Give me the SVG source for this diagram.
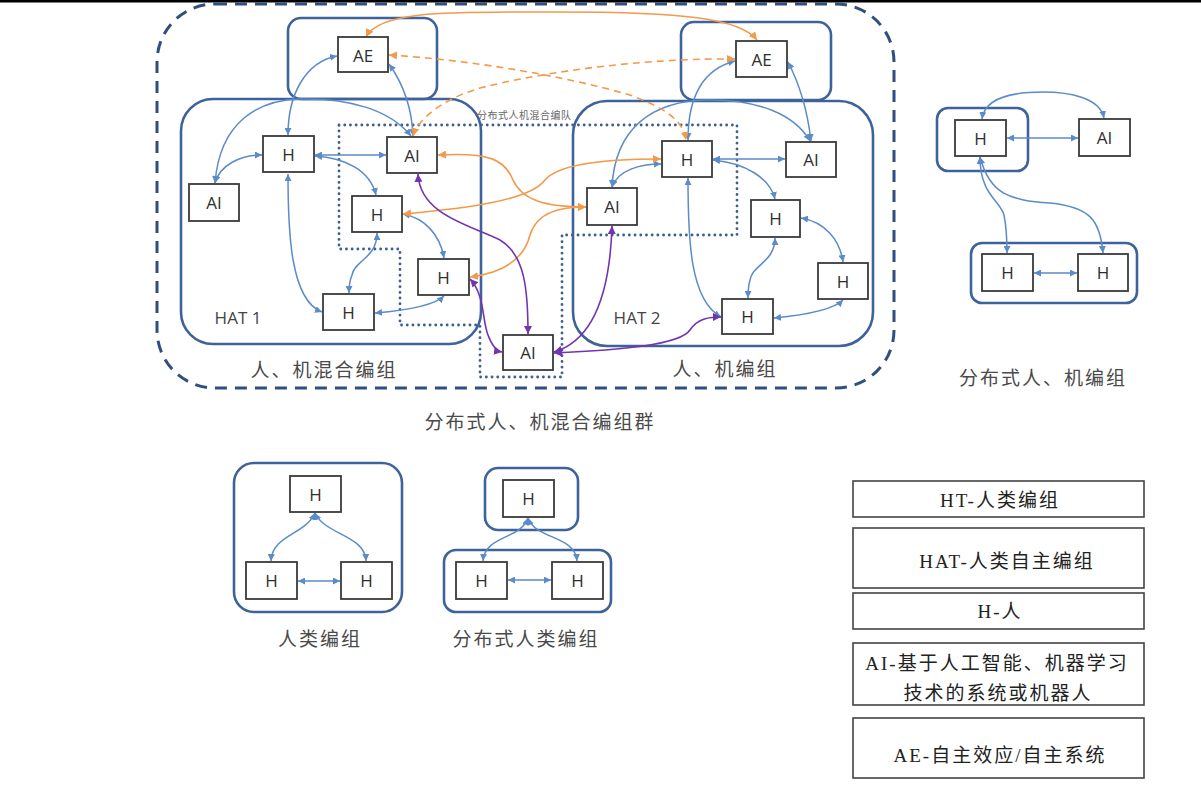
<svg xmlns="http://www.w3.org/2000/svg" width="1201" height="785" viewBox="0 0 1201 785">
<style>
.bg{fill:#fff}
.grp{fill:none;stroke:#3E639A;stroke-width:2.6}
.outer{fill:none;stroke:#2F4F7F;stroke-width:3;stroke-dasharray:12 8}
.dot{fill:none;stroke:#3E5F90;stroke-width:2.8;stroke-dasharray:0.1 5.6;stroke-linecap:round;stroke-linejoin:round}
.node rect{fill:#fff;stroke:#3a3a3a;stroke-width:1.8}
.node text{font-family:"Open Sans","DejaVu Sans",sans-serif;font-size:17px;fill:#2e2e2e;text-anchor:middle;dominant-baseline:central}
.b{fill:none;stroke:#5B8BC9;stroke-width:1.5;marker-start:url(#ab);marker-end:url(#ab)}
.o{fill:none;stroke:#F39A4A;stroke-width:1.6;marker-start:url(#ao);marker-end:url(#ao)}
.od{fill:none;stroke:#F39A4A;stroke-width:1.6;stroke-dasharray:7 5;marker-start:url(#ao);marker-end:url(#ao)}
.p{fill:none;stroke:#7434B0;stroke-width:1.6;marker-start:url(#ap);marker-end:url(#ap)}
.cap{font-family:"Noto Sans CJK SC","Noto Sans",sans-serif;font-size:19px;fill:#4a4a4a;letter-spacing:2px;text-anchor:middle;dominant-baseline:central}
.hat{font-family:"Open Sans","DejaVu Sans",sans-serif;font-size:17px;fill:#444;text-anchor:middle;dominant-baseline:central}
.small{font-family:"Noto Sans CJK SC",sans-serif;font-size:10px;fill:#666;dominant-baseline:central;letter-spacing:0.5px}
.leg rect{fill:#fff;stroke:#444;stroke-width:1.6}
.leg text{font-family:"Liberation Serif","Noto Sans CJK SC",serif;font-size:19px;fill:#222;letter-spacing:2px;text-anchor:middle;dominant-baseline:central}
</style>
<defs>
<marker id="ab" viewBox="0 0 8 8" refX="8" refY="4" markerWidth="7" markerHeight="7" markerUnits="userSpaceOnUse" orient="auto-start-reverse"><path d="M0,0 L8,4 L0,8 z" fill="#5B8BC9"/></marker>
<marker id="ao" viewBox="0 0 8 8" refX="8" refY="4" markerWidth="8" markerHeight="8" markerUnits="userSpaceOnUse" orient="auto-start-reverse"><path d="M0,0 L8,4 L0,8 z" fill="#F39A4A"/></marker>
<marker id="ap" viewBox="0 0 8 8" refX="8" refY="4" markerWidth="8" markerHeight="8" markerUnits="userSpaceOnUse" orient="auto-start-reverse"><path d="M0,0 L8,4 L0,8 z" fill="#7434B0"/></marker>
</defs>
<rect class="bg" x="0" y="0" width="1201" height="785"/>
<rect x="0" y="0" width="1201" height="2.5" fill="#000"/>

<g id="containers">
<rect class="outer" x="157" y="4" width="737" height="384" rx="58"/>
<rect class="grp" x="288" y="18" width="149" height="81" rx="13"/>
<rect class="grp" x="181" y="99" width="300" height="245" rx="32"/>
<rect class="grp" x="681" y="22" width="150" height="78" rx="13"/>
<rect class="grp" x="573" y="101" width="300" height="245" rx="34"/>
<path class="dot" d="M339,125 L737,125 L737,235 L562,235 L562,377 L480,377 L480,325 L400,325 L400,249 L339,249 Z"/>
<rect class="grp" x="937" y="108" width="91" height="63" rx="11"/>
<rect class="grp" x="971" y="243" width="166" height="60" rx="11"/>
<rect class="grp" x="234" y="463" width="168" height="149" rx="20"/>
<rect class="grp" x="485" y="468" width="93" height="62" rx="13"/>
<rect class="grp" x="444" y="550" width="167" height="62" rx="12"/>
</g>

<g id="connectors">
<!-- HAT1 blue -->
<path class="b" d="M288,135 C288,95 305,62 337,56"/>
<path class="b" d="M389,64 C404,85 412,110 413,136"/>
<path class="b" d="M215,183 C220,165 240,155 262,155"/>
<path class="b" d="M215,183 C220,120 260,100 300,99 C350,98 390,110 411,136"/>
<path class="b" d="M315,155 L386,155"/>
<path class="b" d="M315,156 C345,158 370,170 376,195"/>
<path class="b" d="M288,174 C288,230 290,300 322,312"/>
<path class="b" d="M377,233 C377,258 355,260 352,275 C349,282 349,288 349,293"/>
<path class="b" d="M403,214 C425,218 440,235 444,258"/>
<path class="b" d="M375,313 C410,310 435,305 444,296"/>
<!-- HAT2 blue -->
<path class="b" d="M688,140 C688,100 700,70 735,61"/>
<path class="b" d="M788,62 C800,85 808,115 811,141"/>
<path class="b" d="M612,187 C618,170 640,164 661,164"/>
<path class="b" d="M612,187 C615,130 650,100 710,100 C760,100 795,115 810,141"/>
<path class="b" d="M713,159 L785,159"/>
<path class="b" d="M713,160 C745,163 770,178 775,199"/>
<path class="b" d="M688,178 C688,240 690,300 721,317"/>
<path class="b" d="M775,238 C775,262 752,265 750,280 C748,287 748,292 748,298"/>
<path class="b" d="M801,218 C825,222 840,240 843,262"/>
<path class="b" d="M774,318 C805,315 833,310 843,300"/>
<!-- orange -->
<path class="o" d="M366,37 C380,10 450,12 560,12 C680,12 740,18 757,40"/>
<path class="od" d="M389,55 C470,60 560,75 630,95 C665,108 683,120 686,140"/>
<path class="od" d="M413,136 C418,120 440,100 480,88 C560,68 660,58 735,59"/>
<path class="o" d="M438,155 C490,152 505,160 513,180 C522,200 545,207 586,207"/>
<path class="o" d="M403,214 C470,208 530,200 545,180 C560,162 620,159 661,159"/>
<path class="o" d="M470,277 C510,272 525,255 530,235 C537,212 560,207 586,207"/>
<!-- purple -->
<path class="p" d="M418,174 C420,215 470,225 500,240 C525,255 528,290 528,334"/>
<path class="p" d="M470,279 C485,295 482,320 488,335 C492,346 496,351 502,352"/>
<path class="p" d="M612,226 C610,290 595,340 554,352"/>
<path class="p" d="M554,353 C620,350 680,345 690,330 C698,318 710,317 721,317"/>
<!-- right diagram -->
<path class="b" d="M982,119 C985,95 1020,92 1043,92 C1070,92 1100,98 1104,118"/>
<path class="b" d="M1007,138 L1078,138"/>
<path class="b" d="M980,157 C980,195 1000,200 1004,215 C1007,230 1007,240 1007,253"/>
<path class="b" d="M980,157 C990,195 1010,200 1050,203 C1090,207 1100,220 1103,253"/>
<path class="b" d="M1034,273 L1077,273"/>
<!-- bottom left -->
<path class="b" d="M315,513 C305,535 272,535 271,561"/>
<path class="b" d="M315,513 C325,535 365,535 366,561"/>
<path class="b" d="M298,581 L340,581"/>
<path class="b" d="M528,518 C520,540 485,535 483,561"/>
<path class="b" d="M528,518 C536,540 575,535 577,561"/>
<path class="b" d="M508,580 L551,580"/>
</g>

<g id="n-ae1" class="node"><rect x="338" y="37" width="50" height="35"/><text x="363" y="55">AE</text></g>
<g id="n-h1a" class="node"><rect x="263" y="136" width="51" height="36"/><text x="288.5" y="154">H</text></g>
<g id="n-ai1a" class="node"><rect x="387" y="137" width="50" height="36"/><text x="412" y="155">AI</text></g>
<g id="n-ai1b" class="node"><rect x="189" y="184" width="50" height="37"/><text x="214" y="202.5">AI</text></g>
<g id="n-h1b" class="node"><rect x="352" y="196" width="50" height="36"/><text x="377" y="214">H</text></g>
<g id="n-h1c" class="node"><rect x="418" y="259" width="51" height="36"/><text x="443.5" y="277">H</text></g>
<g id="n-h1d" class="node"><rect x="323" y="294" width="51" height="36"/><text x="348.5" y="312">H</text></g>
<g id="n-ae2" class="node"><rect x="736" y="41" width="51" height="36"/><text x="761.5" y="59">AE</text></g>
<g id="n-h2a" class="node"><rect x="662" y="141" width="50" height="36"/><text x="687" y="159">H</text></g>
<g id="n-ai2a" class="node"><rect x="786" y="142" width="50" height="35"/><text x="811" y="159.5">AI</text></g>
<g id="n-ai2b" class="node"><rect x="587" y="188" width="50" height="37"/><text x="612" y="206.5">AI</text></g>
<g id="n-h2b" class="node"><rect x="751" y="200" width="49" height="37"/><text x="775.5" y="218.5">H</text></g>
<g id="n-h2c" class="node"><rect x="818" y="263" width="50" height="36"/><text x="843" y="281">H</text></g>
<g id="n-h2d" class="node"><rect x="722" y="299" width="51" height="35"/><text x="747.5" y="316.5">H</text></g>
<g id="n-aic" class="node"><rect x="503" y="335" width="50" height="35"/><text x="528" y="352.5">AI</text></g>
<g id="n-r-h" class="node"><rect x="955" y="120" width="51" height="36"/><text x="980.5" y="138">H</text></g>
<g id="n-r-ai" class="node"><rect x="1079" y="119" width="51" height="37"/><text x="1104.5" y="137.5">AI</text></g>
<g id="n-r-h2" class="node"><rect x="982" y="254" width="51" height="37"/><text x="1007.5" y="272.5">H</text></g>
<g id="n-r-h3" class="node"><rect x="1078" y="254" width="50" height="37"/><text x="1103" y="272.5">H</text></g>
<g id="n-ht-a" class="node"><rect x="290" y="476" width="51" height="36"/><text x="315.5" y="494">H</text></g>
<g id="n-ht-b" class="node"><rect x="246" y="562" width="51" height="37"/><text x="271.5" y="580.5">H</text></g>
<g id="n-ht-c" class="node"><rect x="341" y="562" width="51" height="37"/><text x="366.5" y="580.5">H</text></g>
<g id="n-dht-a" class="node"><rect x="503" y="480" width="51" height="37"/><text x="528.5" y="498.5">H</text></g>
<g id="n-dht-b" class="node"><rect x="456" y="562" width="51" height="37"/><text x="481.5" y="580.5">H</text></g>
<g id="n-dht-c" class="node"><rect x="552" y="562" width="51" height="37"/><text x="577.5" y="580.5">H</text></g>

<g id="labels">
<text class="hat" x="238" y="317">HAT 1</text>
<text class="hat" x="637" y="317">HAT 2</text>
<text class="small" x="477" y="114">分布式人机混合编队</text>
<text class="cap" x="324" y="368">人、机混合编组</text>
<text class="cap" x="725" y="367">人、机编组</text>
<text class="cap" x="540" y="420">分布式人、机混合编组群</text>
<text class="cap" x="1043" y="376">分布式人、机编组</text>
<text class="cap" x="320" y="637">人类编组</text>
<text class="cap" x="526" y="637">分布式人类编组</text>
</g>

<g id="legend" class="leg">
<rect x="853" y="481" width="291" height="36"/><text x="1000" y="500">HT-人类编组</text>
<rect x="853" y="528" width="291" height="60"/><text x="1007" y="561">HAT-人类自主编组</text>
<rect x="853" y="593" width="291" height="36"/><text x="1000" y="611">H-人</text>
<rect x="853" y="643" width="291" height="62"/><text x="997" y="663">AI-基于人工智能、机器学习</text><text x="998" y="693">技术的系统或机器人</text>
<rect x="853" y="718" width="291" height="60"/><text x="1000" y="755">AE-自主效应/自主系统</text>
</g>
</svg>
